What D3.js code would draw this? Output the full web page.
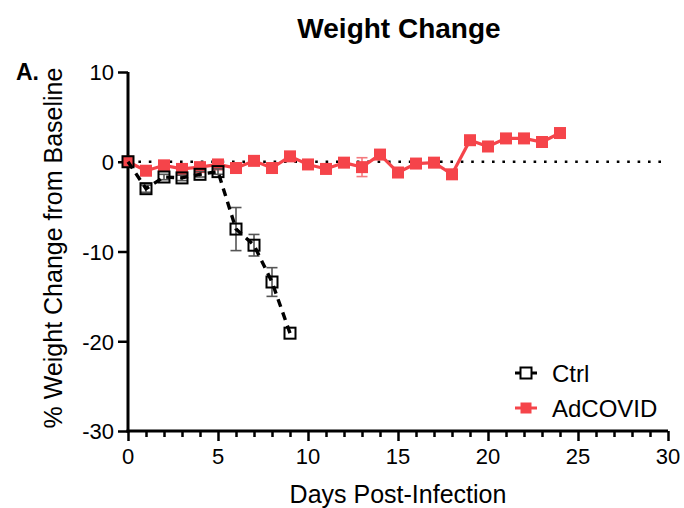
<!DOCTYPE html>
<html>
<head>
<meta charset="utf-8">
<script src="https://cdn.jsdelivr.net/npm/d3@7"></script>
<style>
  body { margin: 0; background: #fff; }
  svg { font-family: "Liberation Sans", Arial, sans-serif; }
</style>
</head>
<body>
<svg id="chart" width="684" height="508"></svg>
<script>
// values
const ctrlDays = [0, 1, 2, 3, 4, 5, 6, 7, 8, 9];
const ctrlMean = [0, -3.0, -1.7, -1.8, -1.4, -1.1, -7.5, -9.3, -13.4, -19.1];
const ctrlSem  = [0, 0.4, 0.3, 0.3, 0.3, 0.3, 2.4, 1.2, 1.6, 0];

const adDays = [0, 1, 2, 3, 4, 5, 6, 7, 8, 9, 10, 11, 12, 13, 14, 15, 16, 17, 18, 19, 20, 21, 22, 23, 24];
const adMean = [0, -1.0, -0.4, -0.8, -0.6, -0.3, -0.7, 0.1, -0.7, 0.6, -0.3, -0.8, -0.1, -0.6, 0.8, -1.2, -0.2, -0.1, -1.4, 2.4, 1.7, 2.6, 2.6, 2.2, 3.2];
const adSem  = [0, 0.3, 0.3, 0.3, 0.3, 0.3, 0.3, 0.3, 0.3, 0.3, 0.3, 0.3, 0.3, 1.05, 0.3, 0.3, 0.3, 0.3, 0.3, 0.3, 0.3, 0.3, 0.3, 0.3, 0.3];

const xTicks = [0, 5, 10, 15, 20, 25, 30];
const yTicks = [10, 0, -10, -20, -30];

const red = "#f5444a";

const svg = d3.select("#chart");

const x = d3.scaleLinear().domain([0, 30]).range([128, 668]);
const y = d3.scaleLinear().domain([-30, 10]).range([431, 72]);

// titles
svg.append("text")
  .attr("x", 399).attr("y", 38)
  .attr("text-anchor", "middle")
  .attr("font-size", 28).attr("font-weight", "bold")
  .text("Weight Change");

svg.append("text")
  .attr("x", 16).attr("y", 80)
  .attr("font-size", 23).attr("font-weight", "bold")
  .text("A.");

svg.append("text")
  .attr("transform", "rotate(-90)")
  .attr("x", -248).attr("y", 62)
  .attr("text-anchor", "middle")
  .attr("font-size", 25)
  .text("% Weight Change from Baseline");

svg.append("text")
  .attr("x", 398).attr("y", 503)
  .attr("text-anchor", "middle")
  .attr("font-size", 25)
  .text("Days Post-Infection");

// dotted zero line
svg.append("line")
  .attr("x1", x(0)).attr("x2", x(30))
  .attr("y1", y(0)).attr("y2", y(0))
  .attr("stroke", "#000")
  .attr("stroke-width", 2.6)
  .attr("stroke-dasharray", "2.6,7.8");

// axes
const xAxis = svg.append("g")
  .attr("transform", `translate(0,${y(-30)})`)
  .call(d3.axisBottom(x).tickValues(d3.range(0, 31)).tickSize(6).tickFormat(""));
xAxis.selectAll(".tick line")
  .attr("y2", d => d % 5 === 0 ? 10 : 6);
xAxis.append("g").selectAll("text")
  .data(xTicks)
  .enter()
  .append("text")
  .attr("x", d => x(d))
  .attr("y", 33)
  .attr("text-anchor", "middle")
  .attr("fill", "#000")
  .attr("font-size", 22)
  .text(d => String(d));

const yAxis = svg.append("g")
  .attr("transform", `translate(${x(0)},0)`)
  .call(d3.axisLeft(y).tickValues(yTicks).tickSize(10).tickPadding(4).tickFormat(d => String(d)));
yAxis.selectAll(".tick text")
  .attr("font-size", 22)
  .attr("font-family", "Liberation Sans, Arial, sans-serif")
  .attr("fill", "#000")
  .attr("dy", "0.36em");

[xAxis, yAxis].forEach(a => {
  a.select(".domain").attr("stroke-width", 3);
  a.selectAll(".tick line").attr("stroke-width", 2.5);
});
xAxis.select(".domain").attr("d", `M${x(0) - 1.5},0H${x(30)}`);
yAxis.select(".domain").attr("d", `M0,${y(10)}V${y(-30) + 1.5}`);

// series
const ctrl = ctrlDays.map((d, i) => ({ x: d, y: ctrlMean[i], e: ctrlSem[i] }));
const ad = adDays.map((d, i) => ({ x: d, y: adMean[i], e: adSem[i] }));

const line = d3.line().x(d => x(d.x)).y(d => y(d.y));

function errorBars(data, color) {
  const g = svg.append("g").attr("stroke", color).attr("stroke-width", 1.6);
  data.filter(d => d.e > 0).forEach(d => {
    g.append("line").attr("x1", x(d.x)).attr("x2", x(d.x))
      .attr("y1", y(d.y + d.e)).attr("y2", y(d.y - d.e));
    [d.y + d.e, d.y - d.e].forEach(v => {
      g.append("line").attr("x1", x(d.x) - 5.5).attr("x2", x(d.x) + 5.5)
        .attr("y1", y(v)).attr("y2", y(v));
    });
  });
}

// AdCOVID
errorBars(ad, "#f47a7e");
svg.append("path")
  .datum(ad)
  .attr("d", line)
  .attr("fill", "none")
  .attr("stroke", red)
  .attr("stroke-width", 3.2);
svg.append("g").selectAll("rect")
  .data(ad)
  .enter()
  .append("rect")
  .attr("x", d => x(d.x) - 6)
  .attr("y", d => y(d.y) - 6)
  .attr("width", 12).attr("height", 12)
  .attr("fill", red);

// Ctrl
errorBars(ctrl, "#555");
svg.append("path")
  .datum(ctrl)
  .attr("d", line)
  .attr("fill", "none")
  .attr("stroke", "#000")
  .attr("stroke-width", 3.4)
  .attr("stroke-dasharray", "8,6");
svg.append("g").selectAll("rect")
  .data(ctrl)
  .enter()
  .append("rect")
  .attr("x", d => x(d.x) - 5.5)
  .attr("y", d => y(d.y) - 5.5)
  .attr("width", 11).attr("height", 11)
  .attr("fill", "none")
  .attr("stroke", "#000")
  .attr("stroke-width", 2);

// legend
const legend = [
  { name: "Ctrl", y: 373, color: "#000", open: true },
  { name: "AdCOVID", y: 408, color: red, open: false }
];
const lg = svg.append("g");
legend.forEach(l => {
  lg.append("line")
    .attr("x1", 515).attr("x2", 537)
    .attr("y1", l.y).attr("y2", l.y)
    .attr("stroke", l.color).attr("stroke-width", 3);
  lg.append("rect")
    .attr("x", 526 - 5.5).attr("y", l.y - 5.5)
    .attr("width", 11).attr("height", 11)
    .attr("fill", l.open ? "#fff" : l.color)
    .attr("stroke", l.open ? "#000" : "none")
    .attr("stroke-width", 2);
  lg.append("text")
    .attr("x", 552).attr("y", l.y + 8.5)
    .attr("font-size", 24)
    .text(l.name);
});
</script>
</body>
</html>
